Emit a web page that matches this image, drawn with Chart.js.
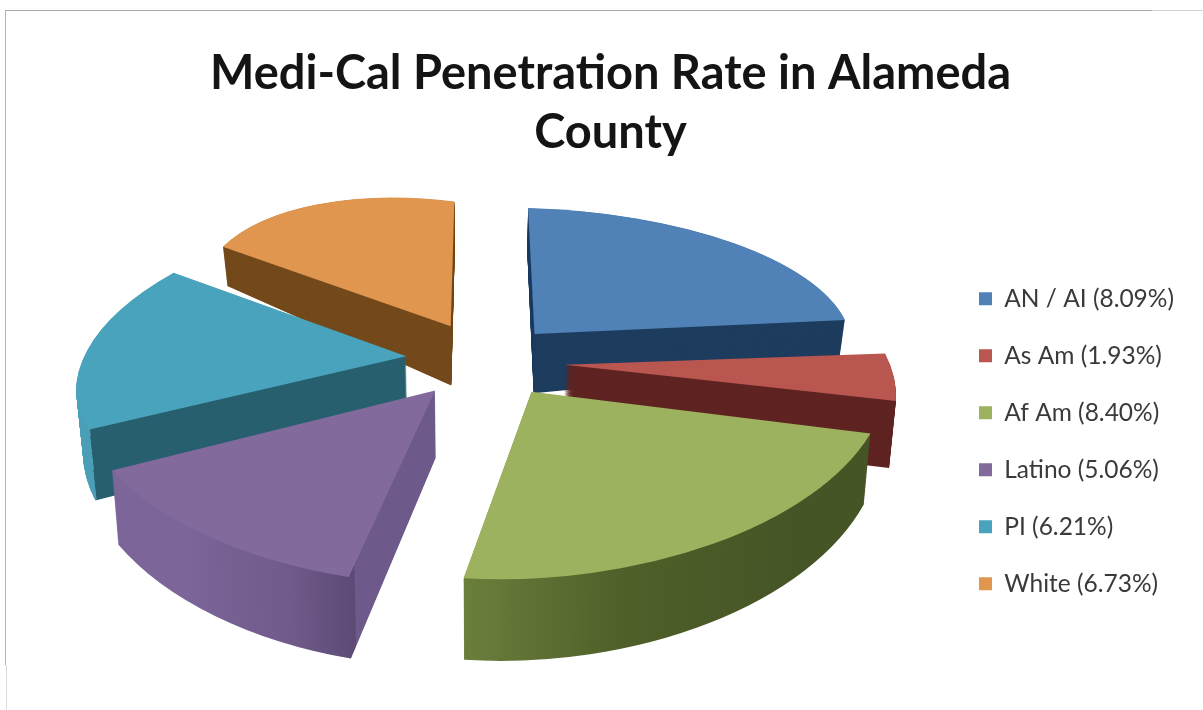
<!DOCTYPE html>
<html><head><meta charset="utf-8">
<style>
html,body{margin:0;padding:0;background:#fff;overflow:hidden}
#c{position:absolute;left:0;top:0}
.l{position:absolute}
</style>
<script src="https://cdn.jsdelivr.net/npm/chart.js@4/dist/chart.umd.min.js"></script>
</head><body>
<div class="l" style="left:5px;top:10px;width:1147px;height:1px;background:#a8a8a8"></div>
<div class="l" style="left:1152px;top:10px;width:51px;height:1px;background:#d4d4d4"></div>
<div class="l" style="left:5px;top:10px;width:1px;height:655px;background:#b4b4b4"></div>
<div class="l" style="left:6px;top:665px;width:1px;height:45px;background:#dcdcdc"></div>
<canvas id="c" width="1203" height="710"></canvas>
<script>
const titleLines = ['Medi-Cal Penetration Rate in Alameda', 'County'];
const categories = ['AN / AI', 'As Am', 'Af Am', 'Latino', 'PI', 'White'];
const rates = [8.09, 1.93, 8.40, 5.06, 6.21, 6.73];
const topColors = ['#5082b8', '#b9564f', '#9cb25e', '#836a9d', '#49a3bd', '#e0964e'];
const edgeColors = ['#1e3d5f', '#5f2422', '#4a5a2a', '#6d5a8b', '#275f6f', '#744a1c'];
// curved-wall shading, left to right in the pie plane (only where the curved wall shows)
const curveStops = [null, null, ['#6b7f3c', '#4f6029', '#465526'], ['#7b6599', '#6f5a8a', '#5d4a75'], ['#4a9fb7', '#4a9fb7', '#4a9fb7'], null];
const paintOrder = [5, 0, 4, 1, 3, 2];

// projection of the tilted pie (unit radius in the pie plane)
const VIEW = {cx: 485, cy: 360, rx: 325, ry: 151.8, persp: 0.152};
const angleKnots = [[5, -5], [95, 0], [187, 4], [237, 6], [298, 8.7], [365, -5]];
const explodeDriftX = [-2, 5, 3, -9, -4, 0];
const explodeDriftY = [-2, 2, 2, 0, -5, -4];
const LAYERS = 86;

function warp(deg) {
  for (let i = 1; i < angleKnots.length; i++) {
    const [a0, d0] = angleKnots[i - 1], [a1, d1] = angleKnots[i];
    if (deg <= a1) return deg + d0 + (d1 - d0) * (deg - a0) / (a1 - a0);
  }
  return deg;
}
function project(ux, uy, z, i) {
  const w = 1 / (1 - VIEW.persp * uy);
  const back = Math.min(1, Math.max(0, -uy / 0.15));
  const depth = 64 + 15 * uy - 14 * Math.abs(ux) * back;
  return [VIEW.cx + explodeDriftX[i] + VIEW.rx * ux * w * (1 - 0.017 * z),
          VIEW.cy + explodeDriftY[i] + VIEW.ry * uy * w + depth * z];
}
function affine(src, dst) {
  const [[x0, y0], [x1, y1], [x2, y2]] = src;
  const det = (x1 - x0) * (y2 - y0) - (x2 - x0) * (y1 - y0);
  const solve = i => {
    const v0 = dst[0][i], v1 = dst[1][i], v2 = dst[2][i];
    const p = ((v1 - v0) * (y2 - y0) - (v2 - v0) * (y1 - y0)) / det;
    const q = ((x1 - x0) * (v2 - v0) - (x2 - x0) * (v1 - v0)) / det;
    return [p, q, v0 - p * x0 - q * y0];
  };
  const [a, c, e] = solve(0), [b, d, f] = solve(1);
  return [a, b, c, d, e, f];
}
const clamp01 = v => Math.min(1, Math.max(0, v));
const pie3d = {
  id: 'pie3d',
  afterLayout(chart) {
    const lg = chart.legend, pad = lg.options.labels.padding;
    lg.left = 979 - pad; lg.right = lg.left + lg.width;
    lg.top = 254; lg.bottom = lg.top + lg.height;
  },
  beforeDatasetsDraw(chart) {
    const ctx = chart.ctx, arcs = chart.getDatasetMeta(0).data;
    for (const i of paintOrder) {
      // Arc.draw moves a slice by offset / 4 and widens its radius by a share of that
      const arc = arcs[i], off = arc.options.offset / 4;
      const R0 = arc.outerRadius;
      const R = R0 + off * (1 - Math.sin(Math.min(Math.PI, arc.circumference)));
      const mid = (arc.startAngle + arc.endAngle) / 2;
      const ox = off * Math.cos(mid), oy = off * Math.sin(mid);
      const user = a => [arc.x + ox + R * Math.cos(a), arc.y + oy + R * Math.sin(a)];
      const src = [[arc.x + ox, arc.y + oy], user(arc.startAngle), user(arc.endAngle)];
      const plane = a => {
        const deg = warp((a + Math.PI / 2) * 180 / Math.PI) * Math.PI / 180;
        return [Math.sin(deg) + ox / R0, -Math.cos(deg) + oy / R0];
      };
      const pts = [[ox / R0, oy / R0], plane(arc.startAngle), plane(arc.endAngle)];
      const shim = Object.create(arc);
      let wall = edgeColors[i];
      const stops = curveStops[i];
      if (stops) {
        // the fill happens inside Arc.draw's own translate, so these x are relative to it
        const xL = arc.x - R, xC = src[1][0] - ox, xR = arc.x + R;
        const green = i === 2;
        const xEnd = green ? xR : xC + R * 2;
        const g = ctx.createLinearGradient(xL, 0, xEnd, 0);
        const span = xEnd - xL, corner = clamp01((xC - xL) / span);
        if (green) {
          const s = clamp01((src[2][0] - ox - xL) / span);
          g.addColorStop(s, stops[0]); g.addColorStop(clamp01(s + 0.22), stops[1]); g.addColorStop(clamp01(s + 0.45), stops[2]);
        } else {
          g.addColorStop(corner * 0.45, stops[0]); g.addColorStop(corner * 0.8, stops[1]);
          g.addColorStop(corner, stops[2]); g.addColorStop(corner, edgeColors[i]); g.addColorStop(1, edgeColors[i]);
        }
        wall = g;
      }
      for (let k = LAYERS; k >= 0; k--) {
        const z = k / LAYERS;
        const m = affine(src, pts.map(p => project(p[0], p[1], z, i)));
        ctx.save();
        ctx.setTransform(m[0], m[1], m[2], m[3], m[4], m[5]);
        shim.options = Object.assign({}, arc.options, {backgroundColor: k === 0 ? topColors[i] : wall, borderWidth: 0});
        shim.draw(ctx);
        ctx.restore();
      }
    }
    return false;
  }
};
const legendLabels = categories.map((c, i) => c + ' (' + rates[i].toFixed(2) + '%)');
new Chart(document.getElementById('c'), {
  type: 'pie',
  data: {labels: legendLabels, datasets: [{data: rates, backgroundColor: topColors, borderWidth: 0, offset: 160}]},
  plugins: [pie3d],
  options: {
    responsive: false, animation: false, events: [],
    rotation: 5, radius: 174,
    layout: {padding: {left: 18}},
    plugins: {
      tooltip: {enabled: false},
      title: {display: true, text: titleLines, color: '#141414', padding: {top: 45, bottom: 10},
        font: {family: 'Lato', size: 47, weight: 'bold', lineHeight: 1.24}},
      legend: {position: 'right', align: 'start',
        labels: {boxWidth: 13, boxHeight: 13, padding: 32.5, color: '#3a3a3a', font: {family: 'Lato', size: 24.5}}}
    }
  }
});
</script>
</body></html>
